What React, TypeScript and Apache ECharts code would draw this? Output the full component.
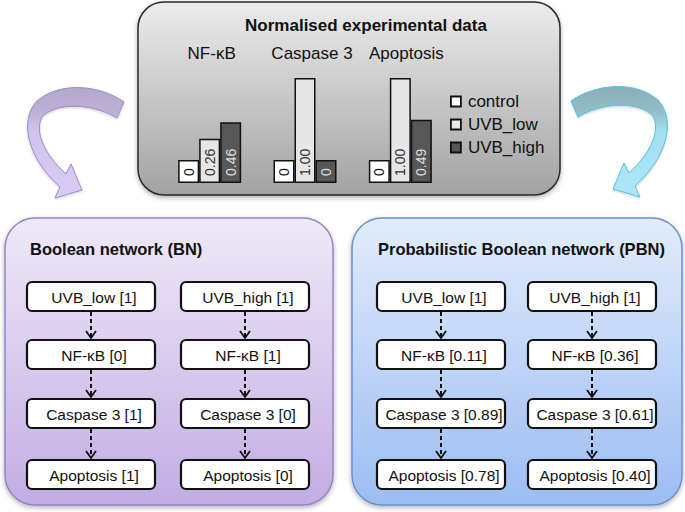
import React, { useEffect, useRef } from "react";
import * as echarts from "echarts";

// ---- data ----
const chartTitle = "Normalised experimental data";
const categories = ["NF-κB", "Caspase 3", "Apoptosis"];
const seriesNames = ["control", "UVB_low", "UVB_high"];
const controlValues = [0, 0, 0];
const uvbLowValues = [0.26, 1.0, 1.0];
const uvbHighValues = [0.46, 0, 0.49];

const panelTitles = ["Boolean network (BN)", "Probabilistic Boolean network (PBN)"];
const nodeNamesLow = ["UVB_low", "NF-κB", "Caspase 3", "Apoptosis"];
const nodeNamesHigh = ["UVB_high", "NF-κB", "Caspase 3", "Apoptosis"];
const bnLow = [1, 0, 1, 1];
const bnHigh = [1, 1, 0, 0];
const pbnLow = [1, 0.11, 0.89, 0.78];
const pbnHigh = [1, 0.36, 0.61, 0.4];

// ---- styling / layout ----
const FONT = "'Liberation Sans', Arial, Helvetica, sans-serif";
const barFills = ["#ffffff", "#e6e6e6", "#575757"];
const labelColors = ["#111111", "#333333", "#dddddd"];
const catShift = [4, 14, 12];
const rowTops = [282, 340, 399, 460];
const boxH = 29;
const panels = [
  { x: 5, y: 218, w: 328, h: 287, top: "#efe9f9", bottom: "#c1ade2", stroke: "#9783c4", cols: [27, 181], bw: 128, titleX: 30 },
  { x: 352, y: 218, w: 330, h: 287, top: "#e2ecfc", bottom: "#9cbcf2", stroke: "#6a91cf", cols: [377, 528], bw: 128, titleX: 378 },
];

const ARROW_D =
  "M124 102 C100 85 60 81 37 101 C19 120 27 158 60 187 L55 198 L82 190 L71 164 L66 174 C45 155 34 132 42 117 C55 103 90 102 117 118 Z";

let registered = false;
function ensureShape() {
  if (registered) return;
  registered = true;
  echarts.graphic.registerShape("bendArrow", echarts.graphic.extendPath(ARROW_D, {}) as any);
}

function fmt(v: number) {
  return v === 0 || v === 1 ? String(v) : v.toFixed(2);
}
function fmtBar(v: number) {
  return v === 0 ? "0" : v.toFixed(2);
}

function buildGraphic() {
  const els: any[] = [];
  // top panel
  els.push({
    type: "rect",
    z: 0,
    shape: { x: 138, y: 2, width: 422, height: 193, r: 26 },
    style: {
      fill: new echarts.graphic.LinearGradient(0, 0, 0, 1, [
        { offset: 0, color: "#ececec" },
        { offset: 1, color: "#a2a2a2" },
      ]),
      stroke: "#2a2a2a",
      lineWidth: 1.5,
      shadowBlur: 5,
      shadowColor: "rgba(0,0,0,0.3)",
      shadowOffsetY: 2,
    },
  });
  els.push({
    type: "text",
    z: 3,
    x: 366,
    y: 25,
    style: { text: chartTitle, font: `bold 17px ${FONT}`, fill: "#111", textAlign: "center", textVerticalAlign: "middle" },
  });

  // curved arrows
  els.push({
    type: "bendArrow",
    z: 1,
    x: 0,
    y: 0,
    style: {
      fill: new echarts.graphic.LinearGradient(0, 0, 0, 1, [
        { offset: 0, color: "#b3a9ca" },
        { offset: 0.22, color: "#bcb0d6" },
        { offset: 0.4, color: "#d0c3ee" },
        { offset: 1, color: "#d8ccf4" },
      ]),
      stroke: "#9d8acd",
      lineWidth: 1,
      shadowBlur: 3,
      shadowColor: "rgba(0,0,0,0.2)",
      shadowOffsetY: 1,
    },
  });
  els.push({
    type: "bendArrow",
    z: 1,
    x: 695,
    y: -1,
    scaleX: -1,
    style: {
      fill: new echarts.graphic.LinearGradient(0, 0, 0, 1, [
        { offset: 0, color: "#8cafb9" },
        { offset: 0.22, color: "#92bcc7" },
        { offset: 0.4, color: "#a3dff1" },
        { offset: 1, color: "#ade6f7" },
      ]),
      stroke: "#55c2e2",
      lineWidth: 1,
      shadowBlur: 3,
      shadowColor: "rgba(0,0,0,0.2)",
      shadowOffsetY: 1,
    },
  });

  // bottom panels
  panels.forEach((p, pi) => {
    els.push({
      type: "rect",
      z: 0,
      shape: { x: p.x, y: p.y, width: p.w, height: p.h, r: 30 },
      style: {
        fill: new echarts.graphic.LinearGradient(0, 0, 0, 1, [
          { offset: 0, color: p.top },
          { offset: 1, color: p.bottom },
        ]),
        stroke: p.stroke,
        lineWidth: 1.5,
        shadowBlur: 5,
        shadowColor: "rgba(0,0,0,0.3)",
        shadowOffsetY: 2,
      },
    });
    els.push({
      type: "text",
      z: 3,
      x: p.titleX,
      y: 249,
      style: { text: panelTitles[pi], font: `bold 16.5px ${FONT}`, fill: "#111", textAlign: "left", textVerticalAlign: "middle" },
    });
    const colNames = [nodeNamesLow, nodeNamesHigh];
    const colVals = pi === 0 ? [bnLow, bnHigh] : [pbnLow, pbnHigh];
    p.cols.forEach((cx0, ci) => {
      const cx = cx0 + p.bw / 2;
      rowTops.forEach((ry, ri) => {
        els.push({
          type: "rect",
          z: 4,
          shape: { x: cx0, y: ry, width: p.bw, height: boxH, r: 5 },
          style: { fill: "#ffffff", stroke: "#111111", lineWidth: 2.2 },
        });
        els.push({
          type: "text",
          z: 5,
          x: cx + 3,
          y: ry + boxH / 2 + 0.5,
          style: {
            text: `${colNames[ci][ri]} [${fmt(colVals[ci][ri])}]`,
            font: `15.5px ${FONT}`,
            fill: "#111",
            textAlign: "center",
            textVerticalAlign: "middle",
          },
        });
        if (ri < rowTops.length - 1) {
          const y1 = ry + boxH + 1;
          const y2 = rowTops[ri + 1] - 2;
          els.push({
            type: "line",
            z: 4,
            shape: { x1: cx, y1, x2: cx, y2: y2 - 1 },
            style: { stroke: "#111", lineWidth: 2, lineDash: [4, 3] },
          });
          els.push({
            type: "polyline",
            z: 4,
            shape: { points: [[cx - 5, y2 - 7], [cx, y2], [cx + 5, y2 - 7]] },
            style: { stroke: "#111", lineWidth: 1.8, fill: null },
          });
        }
      });
    });
  });
  return els;
}

export default function App() {
  const ref = useRef<HTMLDivElement>(null);
  useEffect(() => {
    if (!ref.current) return;
    ensureShape();
    const chart = echarts.init(ref.current, undefined, { renderer: "svg" });
    const values = [controlValues, uvbLowValues, uvbHighValues];
    const option: any = {
      animation: false,
      backgroundColor: "#ffffff",
      textStyle: { fontFamily: FONT },
      grid: { left: 162, top: 78, width: 286, height: 105, containLabel: false },
      legend: {
        orient: "vertical",
        left: 450,
        top: 93,
        padding: 0,
        itemWidth: 10,
        itemHeight: 10,
        itemGap: 6,
        icon: "rect",
        data: seriesNames,
        itemStyle: { borderColor: "#111", borderWidth: 1.8 },
        textStyle: { fontSize: 17, lineHeight: 17, color: "#111", fontFamily: FONT, padding: [0, 0, 0, 2] },
      },
      xAxis: {
        type: "category",
        position: "top",
        data: categories.map((c, i) => ({ value: c, textStyle: { padding: [0, 0, 0, catShift[i]] } })),
        axisLine: { show: false },
        axisTick: { show: false },
        axisLabel: { fontSize: 17, color: "#111", margin: 16, fontFamily: FONT, interval: 0, hideOverlap: false },
      },
      yAxis: {
        type: "value",
        min: -0.28,
        max: 1,
        startValue: -0.28,
        show: false,
        splitLine: { show: false },
      },
      series: seriesNames.map((name, i) => ({
        name,
        type: "bar",
        data: values[i],
        barWidth: 21,
        barGap: "0%",
        itemStyle: { color: barFills[i], borderColor: "#111", borderWidth: 1.5 },
        label: {
          show: true,
          position: "insideBottom",
          distance: 7,
          rotate: 90,
          align: "left",
          verticalAlign: "middle",
          fontSize: 14,
          color: labelColors[i],
          fontFamily: FONT,
          formatter: (p: any) => fmtBar(p.value),
        },
      })),
      graphic: { elements: buildGraphic() },
    };
    chart.setOption(option);
    return () => chart.dispose();
  }, []);
  return <div ref={ref} style={{ position: "fixed", left: 0, top: 0, width: 685, height: 512 }} />;
}
